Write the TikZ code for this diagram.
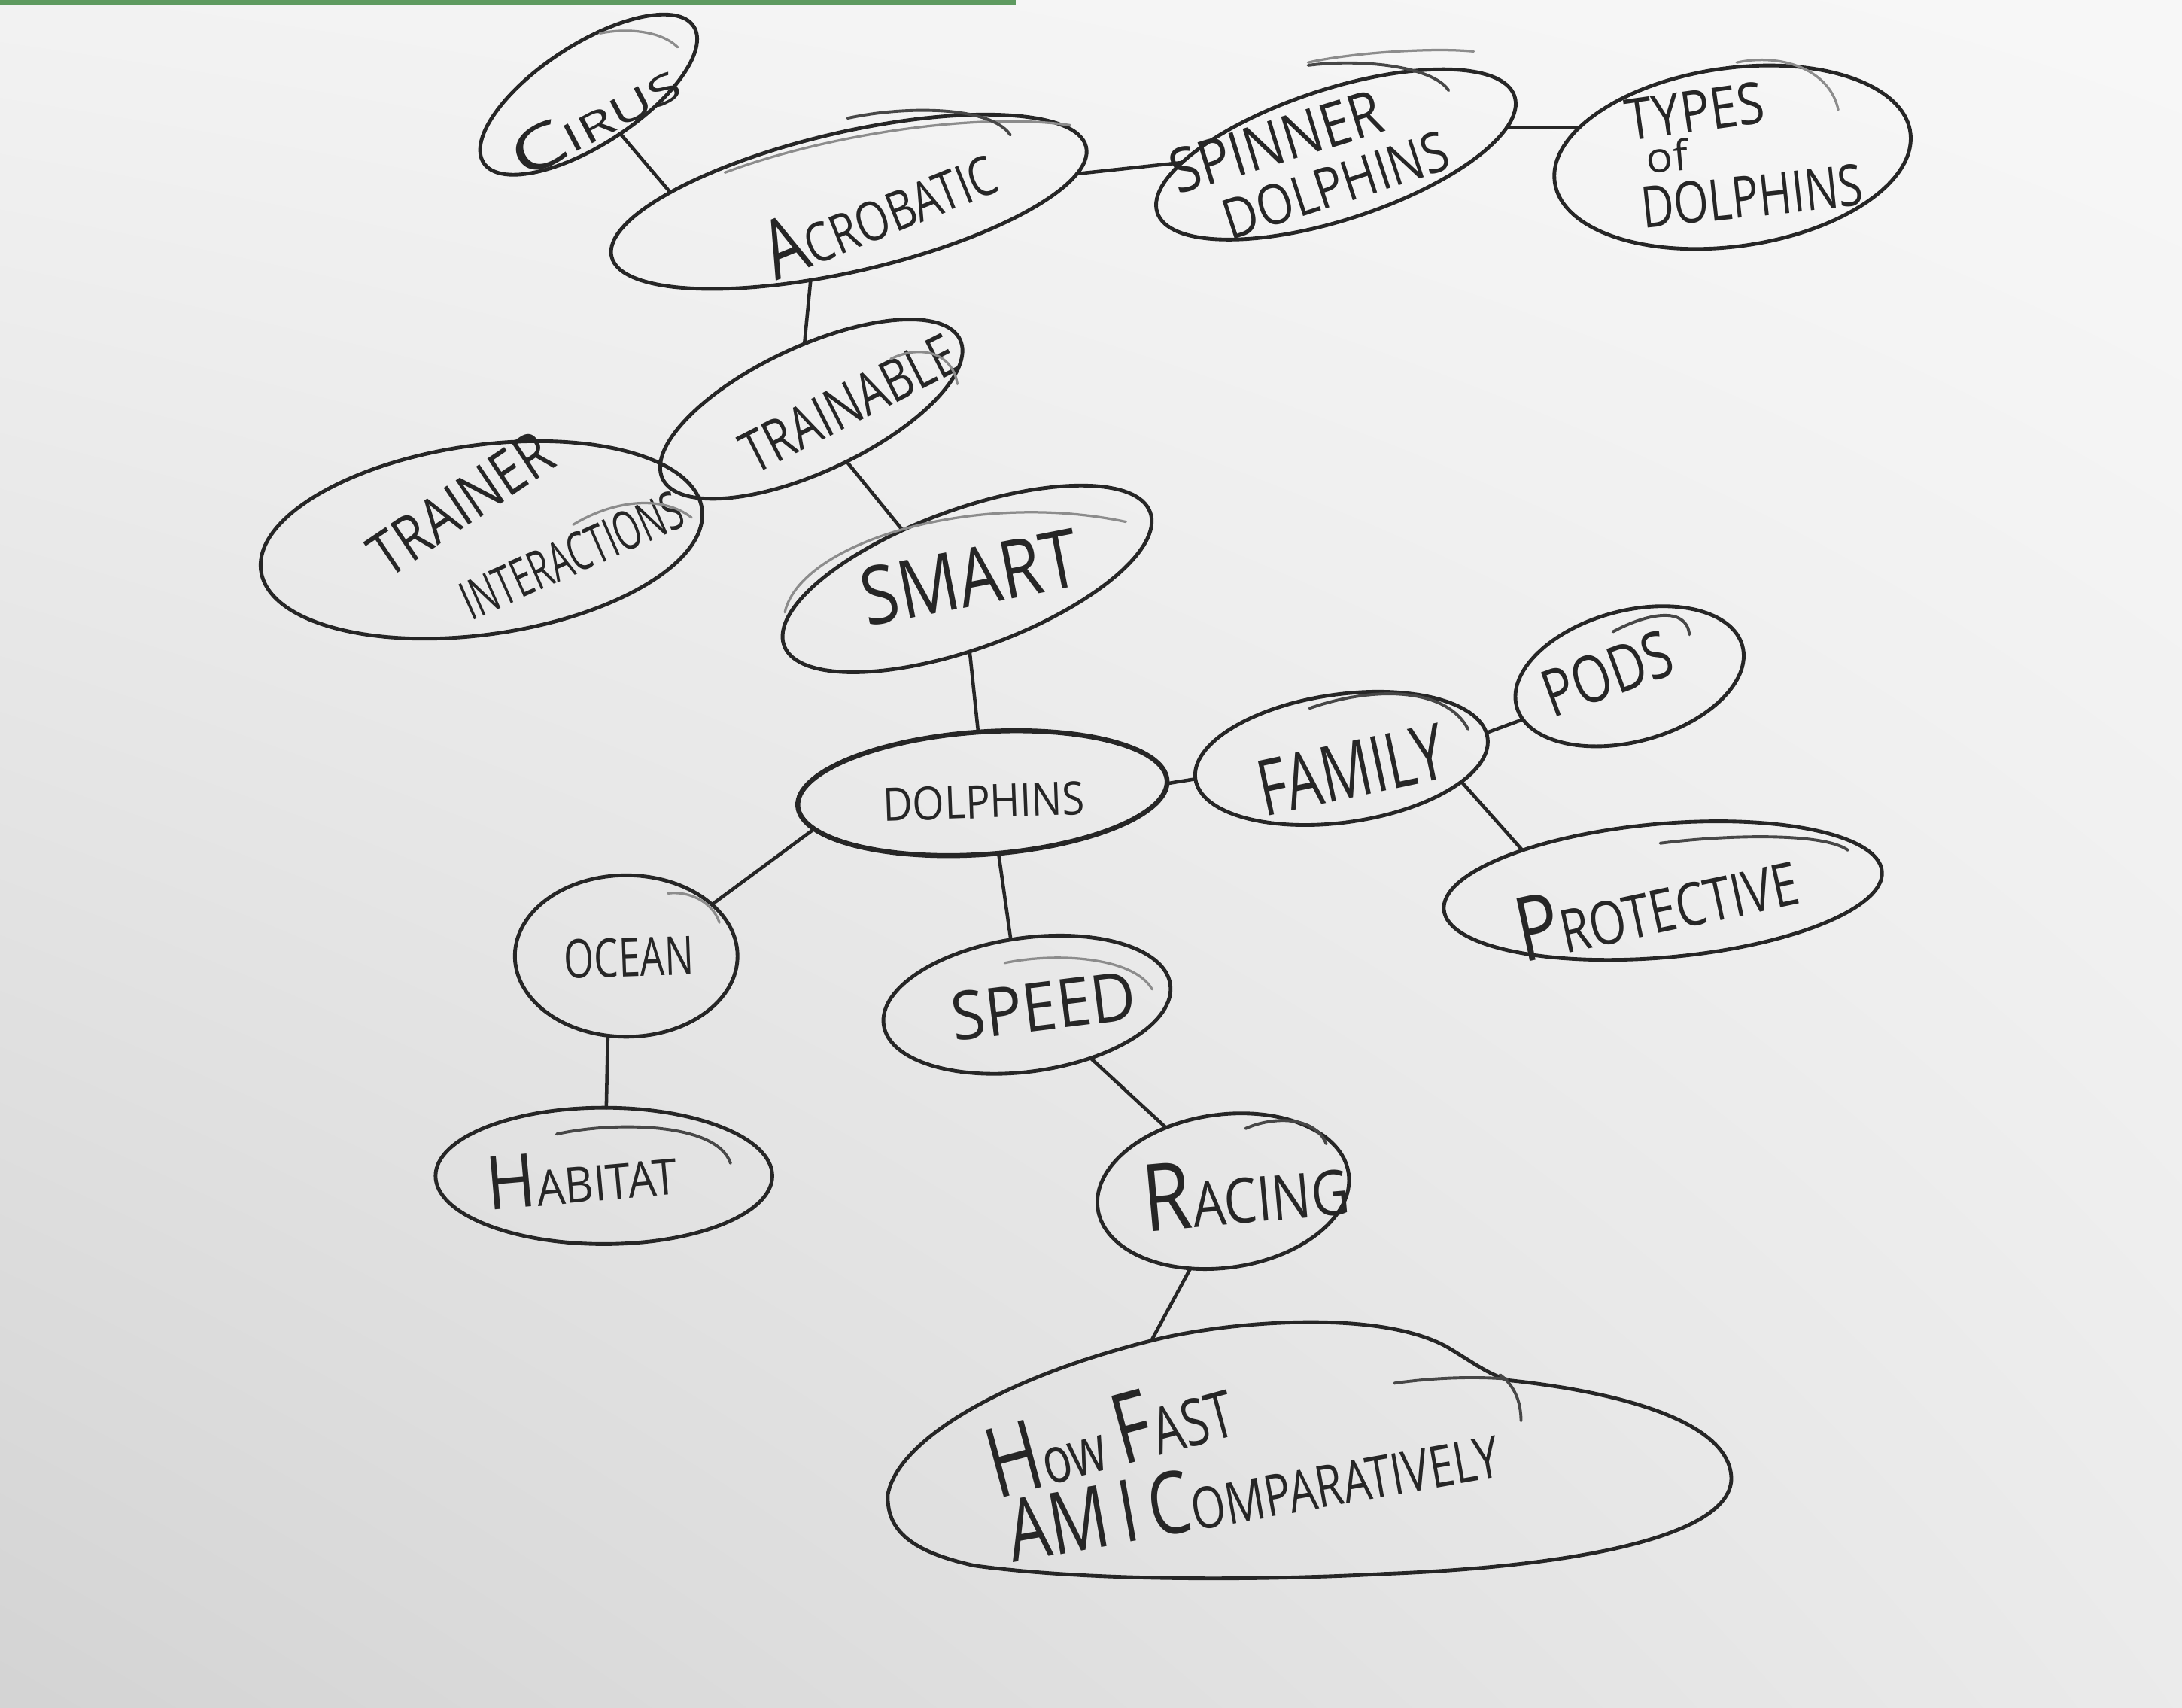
\documentclass[tikz,border=0pt]{standalone}
\usepackage{fontspec}
\setmainfont{Open Sans}
\usepackage{graphicx}
\usetikzlibrary{shapes.geometric,shadings}
\definecolor{pencil}{HTML}{262626}
\definecolor{pencilgray}{HTML}{8C8C8C}
\definecolor{papergreen}{HTML}{5E9A60}
\newcommand\Bg[1]{{\fontsize{15pt}{15pt}\selectfont #1}}
\newcommand\tx[3]{\resizebox{#1mm}{#2mm}{\fontsize{10pt}{10pt}\selectfont #3}}
\begin{document}
\begin{tikzpicture}[x=0.1mm,y=-0.1mm,
  bub/.style={ellipse, draw=pencil, line width=0.75pt, inner sep=0pt, outer sep=0pt},
  lbl/.style={text=pencil, inner sep=0pt},
  link/.style={draw=pencil, line width=0.7pt, line cap=round},
  outline/.style={draw=pencil, line width=0.75pt, line cap=round},
  sketch/.style={draw=pencilgray, line width=0.5pt, line cap=round},
  sketchdark/.style={draw=pencil!85, line width=0.6pt, line cap=round}]
\useasboundingbox (0,0) rectangle (1568,1227);
\shade[upper left=white!95!black, upper right=white!97!black, lower left=white!83!black, lower right=white!92!black] (0,0) rectangle (1568,1227);
\fill[papergreen] (0,0) rectangle (730,3);

% bubbles
\node[bub, minimum width=18mm, minimum height=7.2mm, rotate=33] (cirus) at (423,68) {};
\node[bub, minimum width=35mm, minimum height=10mm, rotate=13] (acro) at (610,145) {};
\node[bub, minimum width=27mm, minimum height=9.4mm, rotate=18] (spinner) at (960,111) {};
\node[bub, minimum width=25.8mm, minimum height=12.8mm, rotate=8] (types) at (1245,113) {};
\node[bub, minimum width=23.6mm, minimum height=9mm, rotate=25] (trainable) at (583,294) {};
\node[bub, minimum width=32mm, minimum height=13.6mm, rotate=8] (trainer) at (346,388) {};
\node[bub, minimum width=28mm, minimum height=10mm, rotate=20] (smart) at (695,416) {};
\node[bub, minimum width=26.6mm, minimum height=8.8mm, rotate=4, line width=1pt] (dolphins) at (706,570) {};
\node[bub, minimum width=21.2mm, minimum height=9.2mm, rotate=8] (family) at (964,545) {};
\node[bub, minimum width=16.8mm, minimum height=9.4mm, rotate=15] (pods) at (1171,486) {};
\node[bub, minimum width=31.6mm, minimum height=9.6mm, rotate=5] (protective) at (1195,640) {};
\node[bub, minimum width=16mm, minimum height=11.6mm] (ocean) at (450,687) {};
\node[bub, minimum width=20.8mm, minimum height=9.6mm, rotate=8] (speed) at (738,722) {};
\node[bub, minimum width=24.2mm, minimum height=9.8mm] (habitat) at (434,845) {};
\node[bub, minimum width=18.2mm, minimum height=11mm, rotate=8] (racing) at (879,856) {};
\node[bub, draw=none, minimum width=60.6mm, minimum height=18.4mm] (howfast) at (941,1048) {};
% egg-shaped outline of the "How fast" bubble
\draw[outline] (638,1074) .. controls (645,1035) and (720,990) .. (829,963)
  .. controls (880,950) and (990,940) .. (1040,968)
  .. controls (1060,980) and (1070,988) .. (1085,992)
  .. controls (1160,1000) and (1240,1020) .. (1244,1060)
  .. controls (1248,1100) and (1150,1125) .. (994,1131)
  .. controls (900,1136) and (780,1136) .. (700,1125)
  .. controls (655,1115) and (637,1100) .. cycle;

% labels
\node[lbl, rotate=28] (cirusT) at (427,85) {\tx{13.1}{3.1}{\Bg{C}IRUS}};
\node[lbl, rotate=22] (acroT) at (631,150) {\tx{17.5}{4.2}{\Bg{A}CROBATIC}};
\node[lbl, rotate=17] (spinT1) at (917,102) {\tx{15.7}{3.2}{SPINNER}};
\node[lbl, rotate=18] (spinT2) at (960,133) {\tx{16.8}{2.9}{DOLPHINS}};
\node[lbl, rotate=8] (typesT1) at (1218,80) {\tx{10}{3}{TYPES}};
\node[lbl, rotate=5] (typesT2) at (1198,112) {\tx{3}{2.3}{of}};
\node[lbl, rotate=6] (typesT3) at (1259,141) {\tx{16}{3}{DOLPHINS}};
\node[lbl, rotate=27] (trainableT) at (610,290) {\tx{16.8}{3}{TRAINABLE}};
\node[lbl, rotate=34] (trainerT1) at (331,362) {\tx{14.8}{3.2}{TRAINER}};
\node[lbl, rotate=24] (trainerT2) at (411,399) {\tx{17}{2.8}{INTERACTIONS}};
\node[lbl, rotate=11] (smartT) at (697,415) {\tx{15.8}{4.2}{SMART}};
\node[lbl, rotate=2] (dolphinsT) at (707,576) {\tx{14.5}{2.4}{DOLPHINS}};
\node[lbl, rotate=12] (familyT) at (971,553) {\tx{13.6}{4}{FAMILY}};
\node[lbl, rotate=20] (podsT) at (1155,484) {\tx{9.6}{3.4}{PODS}};
\node[lbl, rotate=12] (protT) at (1190,648) {\tx{20.5}{4.6}{\Bg{P}ROTECTIVE}};
\node[lbl, rotate=2] (oceanT) at (452,688) {\tx{9.3}{2.8}{OCEAN}};
\node[lbl, rotate=7] (speedT) at (750,723) {\tx{13.3}{3.5}{SPEED}};
\node[lbl, rotate=5] (habitatT) at (418,845) {\tx{13.7}{3.8}{\Bg{H}ABITAT}};
\node[lbl, rotate=5] (racingT) at (895,855) {\tx{14.8}{4.8}{\Bg{R}ACING}};
\node[lbl, rotate=15] (howT1) at (797,1030) {\tx{18}{5}{\Bg{H}ow \Bg{F}AST}};
\node[lbl, rotate=10] (howT2) at (900,1070) {\tx{35.7}{4.5}{\Bg{AM} \Bg{I} \Bg{C}OMPARATIVELY}};

% connectors
\draw[link] (cirus.-84) -- (acro.164);
\draw[link] (acro.-6) -- (spinner.165);
\draw[link] (spinner.-9) -- (types.161);
\draw[link] (acro.231) -- (trainable.71);
\draw[link] (trainable.174) -- (trainer.16);
\draw[link] (trainable.-81) -- (smart.123);
\draw[link] (smart.-108) -- (dolphins.90);
\draw[link] (dolphins.-1) -- (family.180);
\draw[link] (family.2) -- (pods.187);
\draw[link] (family.-19) -- (protective.159);
\draw[link] (dolphins.188) -- (ocean.31);
\draw[link] (dolphins.-79) -- (speed.96);
\draw[link] (ocean.257) -- (habitat.88);
\draw[link] (speed.-48) -- (racing.124);
\draw[link] (racing.239) -- (howfast.143);

% sketchy double strokes
\draw[sketch] (431,24) .. controls (450,20) and (475,22) .. (487,34);
\draw[sketch] (521,124) .. controls (590,98) and (700,80) .. (769,90);
\draw[sketchdark] (609,85) .. controls (650,76) and (712,76) .. (726,97);
\draw[sketch] (940,45) .. controls (970,38) and (1030,34) .. (1059,37);
\draw[sketchdark] (940,47) .. controls (980,42) and (1030,48) .. (1041,65);
\draw[sketch] (1248,45) .. controls (1280,38) and (1315,50) .. (1321,79);
\draw[sketch] (640,258) .. controls (660,248) and (684,252) .. (688,276);
\draw[sketch] (412,377) .. controls (440,360) and (475,355) .. (497,372);
\draw[sketch] (564,440) .. controls (575,390) and (700,352) .. (809,375);
\draw[sketchdark] (941,509) .. controls (990,492) and (1040,495) .. (1055,524);
\draw[sketchdark] (1159,454) .. controls (1185,440) and (1212,436) .. (1214,456);
\draw[sketchdark] (1193,606) .. controls (1240,600) and (1310,598) .. (1328,611);
\draw[sketch] (480,642) .. controls (495,640) and (512,648) .. (517,663);
\draw[sketch] (722,692) .. controls (760,684) and (815,688) .. (828,711);
\draw[sketchdark] (400,815) .. controls (440,806) and (515,806) .. (525,836);
\draw[sketchdark] (895,811) .. controls (915,802) and (945,802) .. (953,822);
\draw[sketchdark] (1078,988) .. controls (1090,997) and (1093,1010) .. (1093,1021);
\draw[sketchdark] (1002,994) .. controls (1030,990) and (1060,989) .. (1083,991);
\end{tikzpicture}
\end{document}
